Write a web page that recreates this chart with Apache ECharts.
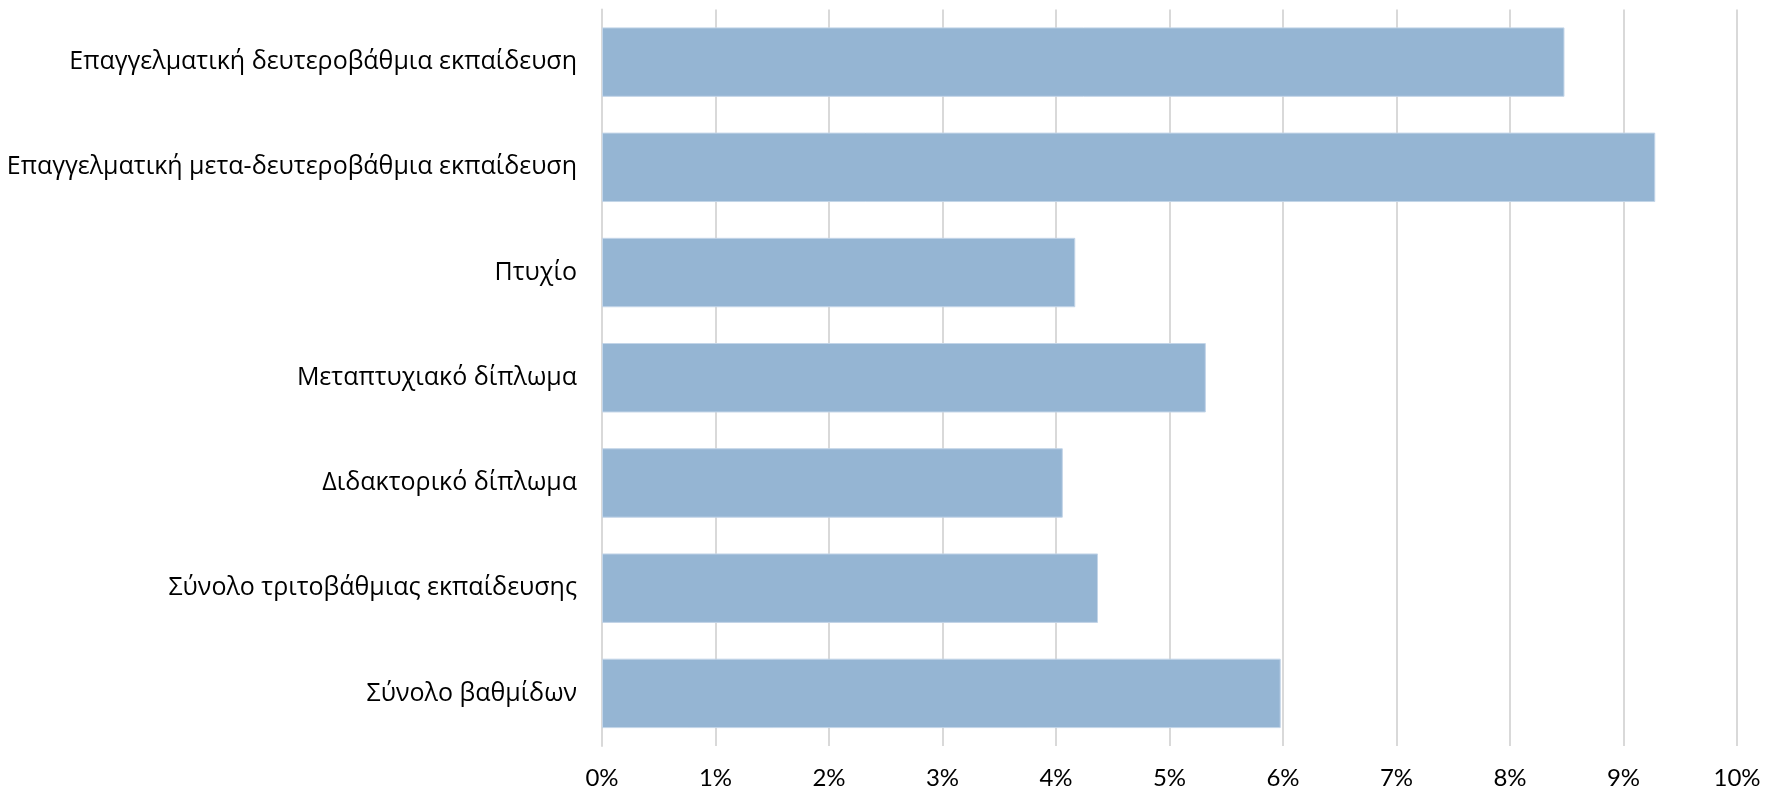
<!DOCTYPE html>
<html>
<head>
<meta charset="utf-8">
<script src="https://cdn.jsdelivr.net/npm/echarts@6/dist/echarts.min.js"></script>
<style>
html,body{margin:0;padding:0;background:#fff;}
#chart{width:1781px;height:792px;}
</style>
</head>
<body>
<div id="chart"></div>
<script>
const categories = [
  "Επαγγελματική δευτεροβάθμια εκπαίδευση",
  "Επαγγελματική μετα-δευτεροβάθμια εκπαίδευση",
  "Πτυχίο",
  "Μεταπτυχιακό δίπλωμα",
  "Διδακτορικό δίπλωμα",
  "Σύνολο τριτοβάθμιας εκπαίδευσης",
  "Σύνολο βαθμίδων"
];
const values = [8.48, 9.28, 4.17, 5.32, 4.06, 4.37, 5.98];
const xTicks = { min: 0, max: 10, interval: 1 };

const chart = echarts.init(document.getElementById('chart'));
chart.setOption({
  animation: false,
  grid: { left: 602, right: 44, top: 9.5, bottom: 46, containLabel: false },
  xAxis: {
    type: 'value',
    min: xTicks.min, max: xTicks.max, interval: xTicks.interval,
    axisLine: { show: false },
    axisTick: { show: false },
    splitLine: { show: true, lineStyle: { color: '#d9d9d9', width: 2 } },
    axisLabel: {
      formatter: v => v + '%',
      color: '#000', fontSize: 24, fontFamily: 'Lato, sans-serif', margin: 20
    }
  },
  yAxis: {
    type: 'category',
    data: categories,
    inverse: true,
    axisLine: { show: true, lineStyle: { color: '#d9d9d9', width: 2 } },
    axisTick: { show: false },
    axisLabel: {
      color: '#000', fontSize: 25, fontFamily: '"Open Sans", sans-serif', margin: 25
    }
  },
  series: [{
    type: 'bar',
    data: values,
    barCategoryGap: '34%',
    itemStyle: { color: '#95b5d3', borderColor: '#c3d5e8', borderWidth: 1 }
  }]
});
</script>
</body>
</html>
